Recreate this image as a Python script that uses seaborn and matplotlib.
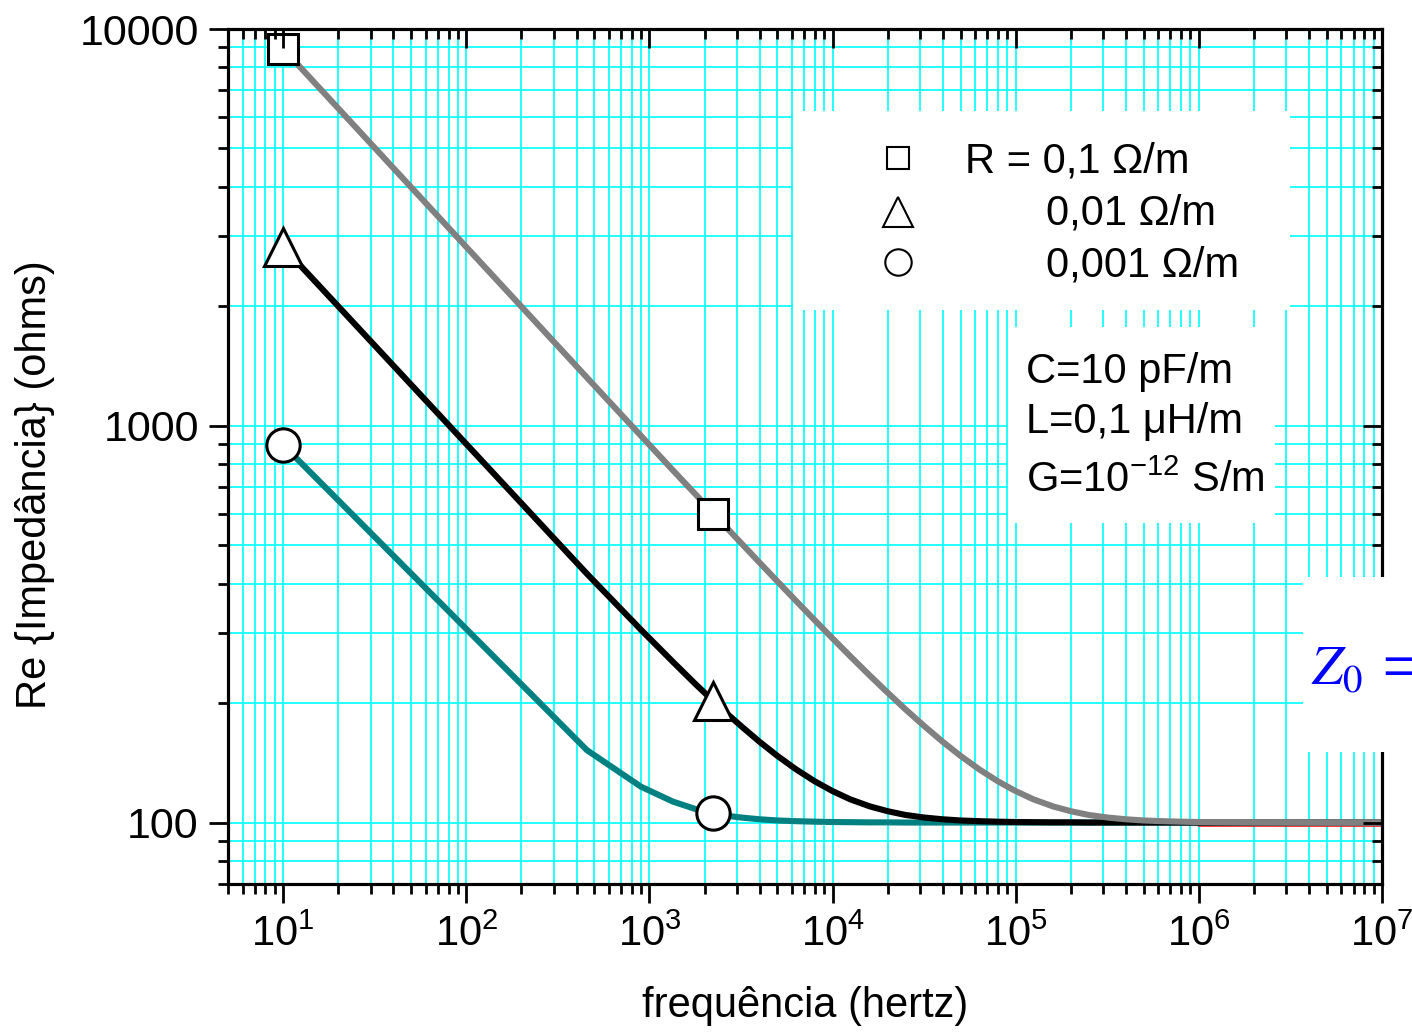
import matplotlib
matplotlib.use("Agg")
import matplotlib.patches as mpatches
import matplotlib.pyplot as plt
import numpy as np
import pandas as pd
import seaborn as sns
from matplotlib.ticker import LogLocator, NullFormatter

# frequencies (Hz) and Re{Z0} (ohms) for each R
freq_hz = [10, 455, 900, 1345, 1790, 2235, 2700, 3200, 4000, 5000, 6300, 8000,
           1e4, 1.25e4, 1.6e4, 2e4, 2.5e4, 3.2e4, 4e4, 5e4, 6.3e4, 8e4,
           1e5, 1.25e5, 1.6e5, 2e5, 2.5e5, 3.2e5, 4e5, 5e5, 6.3e5, 8e5,
           1e6, 2e6, 5e6, 1e7]
rez_r01 = [8920, 1324, 943, 772, 671, 601, 547.5, 503.7, 451.7, 405.2, 362.5, 323.4,
           291.1, 262.4, 234.5, 212.4, 192.9, 174.3, 159.7, 147.2, 136.3, 127.0,
           120.0, 114.4, 109.8, 106.8, 104.5, 102.9, 101.9, 101.2, 100.8, 100.5,
           100.3, 100.1, 100, 100]
rez_r001 = [2822, 424, 306, 254, 223, 202.4, 186.8, 174.3, 159.7, 147.2, 136.3, 127.0,
            120.0, 114.4, 109.8, 106.8, 104.5, 102.9, 101.9, 101.2, 100.8, 100.5,
            100.3, 100.2, 100.1, 100.1, 100, 100, 100, 100, 100, 100,
            100, 100, 100, 100]
rez_r0001 = [895, 152.3, 123.1, 112.9, 108.1, 105.5, 103.9, 102.9, 101.9, 101.2, 100.8, 100.5,
             100.3, 100.2, 100.1, 100.1, 100, 100, 100, 100, 100, 100,
             100, 100, 100, 100, 100, 100, 100, 100, 100, 100,
             100, 100, 100, 100]
red_freq = [1e6, 1e7]
red_rez = [100, 100]

x_ticks = [1e1, 1e2, 1e3, 1e4, 1e5, 1e6, 1e7]
y_ticks = [100, 1000, 10000]
y_ticklabels = ['100', '1000', '10000']

marker_idx = [0, 5]
series_labels = ['0,001', '0,01', '0,1']
series_colors = {'0,001': '#008080', '0,01': 'black', '0,1': '#808080'}
series_markers = {'0,001': 'o', '0,01': '^', '0,1': 's'}
series_msize = {'0,001': 24, '0,01': 27, '0,1': 21}
series_values = {'0,001': rez_r0001, '0,01': rez_r001, '0,1': rez_r01}

legend_labels = ['R = 0,1 \u03a9/m', '0,01 \u03a9/m', '0,001 \u03a9/m']
param_lines = ['C=10 pF/m', 'L=0,1 \u03bcH/m', r'G=$\mathregular{10^{-12}}$ S/m']

sns.set_style('white')
plt.rcParams['font.family'] = ['Liberation Sans', 'DejaVu Sans']
plt.rcParams['mathtext.fontset'] = 'custom'
plt.rcParams['mathtext.rm'] = 'Liberation Sans'
plt.rcParams['mathtext.it'] = 'Liberation Sans:italic'
plt.rcParams['mathtext.bf'] = 'Liberation Sans:bold'
plt.rcParams['mathtext.default'] = 'regular'
plt.rcParams['text.color'] = 'black'
plt.rcParams['axes.labelcolor'] = 'black'
plt.rcParams['axes.edgecolor'] = 'black'
plt.rcParams['xtick.color'] = 'black'
plt.rcParams['ytick.color'] = 'black'

df = pd.concat([pd.DataFrame({'freq': freq_hz, 'rez': series_values[s], 'R': s})
                for s in series_labels], ignore_index=True)

fig = plt.figure(figsize=(14.12, 10.35), dpi=100)
ax = fig.add_axes([228 / 1412, 1 - 884 / 1035, 1154 / 1412, 855 / 1035])
ax.set_xscale('log')
ax.set_yscale('log')

# curves
ax.plot(red_freq, red_rez, color='red', lw=4.7, zorder=2)
sns.lineplot(data=df, x='freq', y='rez', hue='R', hue_order=series_labels,
             palette=series_colors, linewidth=4.4, legend=False, sort=False,
             estimator=None, ax=ax, zorder=3)
# gray line again on top of the red one
ax.plot(freq_hz[32:], rez_r01[32:], color='#808080', lw=4.4, zorder=3.5)

for s in series_labels:
    vals = series_values[s]
    ax.plot([freq_hz[i] for i in marker_idx], [vals[i] for i in marker_idx],
            ls='none', marker=series_markers[s], ms=series_msize[s],
            mfc='white', mec='black', mew=2.2, zorder=4)

# grid
ax.set_axisbelow(True)
ax.grid(which='both', color='#00FFFF', lw=1.2)

ax.set_xticks(x_ticks)
ax.xaxis.set_minor_locator(LogLocator(base=10, subs=np.arange(2, 10), numticks=100))
ax.xaxis.set_minor_formatter(NullFormatter())
ax.set_yticks(y_ticks)
ax.set_yticklabels(y_ticklabels)
ax.yaxis.set_minor_locator(LogLocator(base=10, subs=np.arange(2, 10), numticks=100))
ax.yaxis.set_minor_formatter(NullFormatter())
ax.set_xlim(5, 1e7)
ax.set_ylim(70, 10000)

ax.tick_params(axis='both', which='both', direction='out', color='black', width=2,
               labelsize=30, bottom=True, left=True, top=False, right=False)
ax.tick_params(axis='y', which='major', labelsize=31)
ax.tick_params(axis='both', which='major', length=14)
ax.tick_params(axis='both', which='minor', length=7)
ax.tick_params(axis='x', which='major', pad=8)
ax.tick_params(axis='y', which='major', pad=7)
for sp in ax.spines.values():
    sp.set_linewidth(2.2)
    sp.set_color('black')

# top and right ticks point inward
axt = ax.twiny()
axt.set_xscale('log')
axt.set_xticks(x_ticks)
axt.xaxis.set_minor_locator(LogLocator(base=10, subs=np.arange(2, 10), numticks=100))
axt.set_xlim(5, 1e7)
axt.tick_params(axis='x', which='both', direction='in', top=True, bottom=False,
                labeltop=False, labelbottom=False, width=2)
axt.tick_params(axis='x', which='major', length=14)
axt.tick_params(axis='x', which='minor', length=7)

axr = ax.twinx()
axr.set_yscale('log')
axr.set_yticks(y_ticks)
axr.yaxis.set_minor_locator(LogLocator(base=10, subs=np.arange(2, 10), numticks=100))
axr.set_ylim(70, 10000)
axr.tick_params(axis='y', which='both', direction='in', right=True, left=False,
                labelright=False, labelleft=False, width=2)
axr.tick_params(axis='y', which='major', length=14)
axr.tick_params(axis='y', which='minor', length=7)
for a in (axt, axr):
    for sp in a.spines.values():
        sp.set_linewidth(2.2)

ax.set_xlabel('frequência (hertz)', fontsize=30, labelpad=22)
ax.set_ylabel('Re {Impedância} (ohms)', fontsize=30)
ax.yaxis.set_label_coords(-0.150, 0.467)

# legend box
ax.add_patch(mpatches.Rectangle((0.4896, 0.6713), 0.4307, 0.2328, transform=ax.transAxes,
                                facecolor='white', edgecolor='none', zorder=1))
leg_marker_y = [0.8491, 0.7865, 0.7275]
leg_marker = ['s', '^', 'o']
leg_msize = [16, 21, 19]
for y, m, ms in zip(leg_marker_y, leg_marker, leg_msize):
    ax.plot([0.5806], [y], transform=ax.transAxes, ls='none', marker=m, ms=ms,
            mfc='white', mec='black', mew=1.5, zorder=5, clip_on=False)
leg_text_x = [0.6390, 0.7090, 0.7090]
leg_text_y = [0.8316, 0.7708, 0.7111]
for x, y, t in zip(leg_text_x, leg_text_y, legend_labels):
    ax.text(x, y, t, transform=ax.transAxes, fontsize=30, va='baseline', ha='left', zorder=5)

# parameter box
ax.add_patch(mpatches.Rectangle((0.6759, 0.4222), 0.2314, 0.2293, transform=ax.transAxes,
                                facecolor='white', edgecolor='none', zorder=1))
for y, t in zip([0.5860, 0.5275, 0.4585], param_lines):
    ax.text(0.6915, y, t, transform=ax.transAxes, fontsize=30, va='baseline', ha='left', zorder=5)

# Z0 box, cut by the right edge of the figure
fig.add_artist(mpatches.Rectangle((1303 / 1412, 1 - 752 / 1035), 0.1, 175 / 1035,
                                  transform=fig.transFigure, facecolor='white',
                                  edgecolor='none', zorder=10))
fig.text(1311 / 1412, 1 - 685 / 1035, r'$\mathit{Z}_{\mathrm{0}}\;=$', color='blue',
         fontsize=40, math_fontfamily='stix', va='baseline', ha='left', zorder=11)

fig.savefig('out.png', dpi=100)
